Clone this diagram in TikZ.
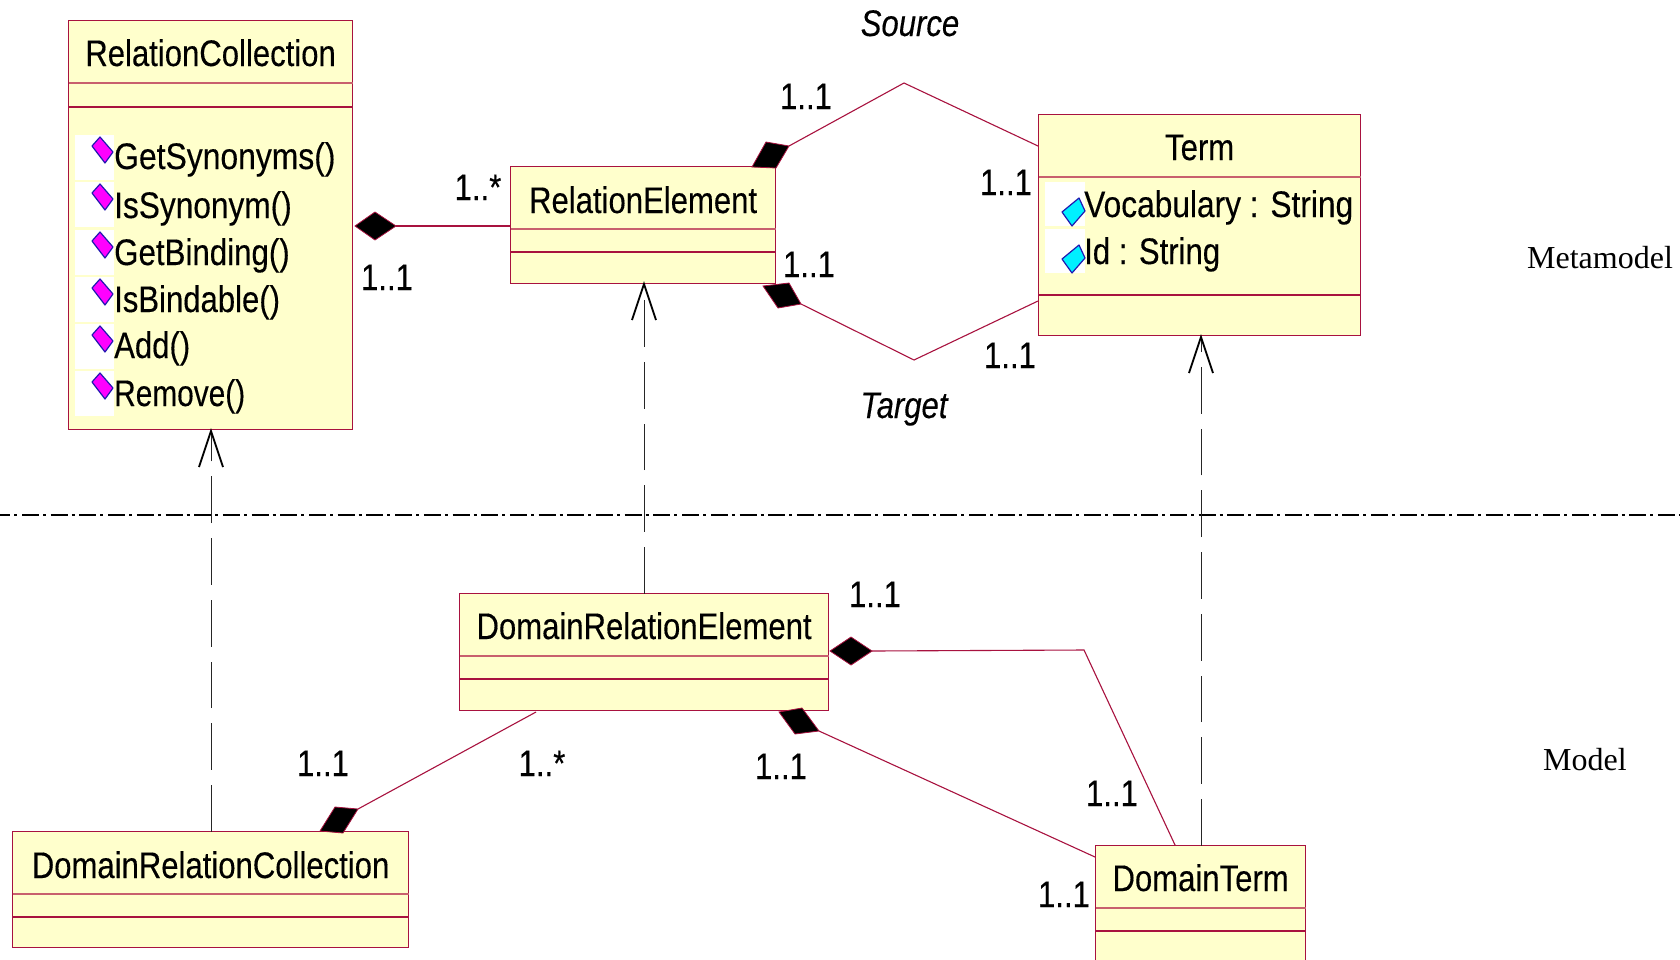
\documentclass[tikz,border=0pt]{standalone}
\usepackage{fontspec}
\setmainfont[FakeStretch=0.84,FakeBold=0.25]{Liberation Sans}
\newfontfamily\serifrm{Liberation Serif}
\usetikzlibrary{arrows.meta,positioning}
\definecolor{umlline}{HTML}{A8123F}
\definecolor{umlsoft}{HTML}{C8606E}
\definecolor{umlfill}{HTML}{FFFFCC}
\definecolor{opfill}{HTML}{FF00FF}
\definecolor{attfill}{HTML}{00F0FF}
\definecolor{iconedge}{HTML}{2018B0}
\tikzset{
  x=1pt,y=-1pt,
  classbox/.style={draw=umlline,fill=umlfill,line width=1.5pt,inner sep=0,outer sep=0,anchor=north west,xshift=.6pt,yshift=-.6pt},
  softrule/.style={draw=umlsoft,line width=1.5pt},
  seprule/.style={draw=umlline,line width=1.1pt},
  assoc/.style={draw=umlline,line width=1.1pt},
  compo/.style={draw=umlline,fill=black,line width=.8pt},
  realize/.style={draw=black!85,line width=.9pt,dash pattern=on 46.7pt off 15pt},
  openhead/.style={draw=black,line width=1.8pt},
  cls/.style={inner sep=0,anchor=base,font=\fontsize{37}{40}\selectfont},
  mem/.style={inner sep=0,anchor=base west,font=\fontsize{37}{40}\selectfont},
  mult/.style={inner sep=0,anchor=base,font=\fontsize{37}{40}\selectfont},
  rolename/.style={inner sep=0,anchor=base,font=\fontsize{37}{40}\selectfont\itshape},
  level/.style={inner sep=0,anchor=base,font=\fontsize{32}{36}\selectfont\serifrm},
  iconbg/.style={fill=white,draw=none,inner sep=0,outer sep=0,anchor=north west,minimum width=39pt},
  opmark/.style={fill=opfill,draw=iconedge,line width=1.2pt,line join=round},
  attmark/.style={fill=attfill,draw=iconedge,line width=1.2pt,line join=round},
}
\newcommand{\umlbox}[9]{% name x1 y1 x2 y2 sep1 sep2 title baseline
  \node[classbox,minimum width=#4-#2,minimum height=#5-#3] (#1) at (#2,#3) {};
  \draw[softrule] (#1.west |- 0,#6) -- (#1.east |- 0,#6);
  \draw[seprule] (#1.west |- 0,#7) -- (#1.east |- 0,#7);
  \node[cls] (#1-t) at ({(#2+#4)/2+.6},#9) {#8};
}
\newcommand{\opicon}[2]{% y center of diamond, name
  \node[iconbg,minimum height=45pt] (#2-bg) at (75,#1-15) {};
  \draw[opmark] (100,#1-13) -- (113,#1+2) -- (105,#1+13) -- (92,#1-4) -- cycle;
}
\newcommand{\attricon}[2]{%
  \node[iconbg,minimum width=40pt,minimum height=44pt] (#2-bg) at (1045,#1-30) {};
  \draw[attmark] (1079,#1-14) -- (1085,#1-1) -- (1072,#1+14) -- (1062,#1) -- cycle;
}
\newcommand{\squeeze}[2]{\scalebox{#1}[1]{#2}}
\begin{document}
\begin{tikzpicture}
\useasboundingbox (0,0) rectangle (1680,959);
\fill[white] (0,0) rectangle (1680,959);

% coordinates
\coordinate (d1a) at (355,226); \coordinate (d1b) at (396,226);
\coordinate (srcapex) at (904,83); \coordinate (srcend) at (1038,146);
\coordinate (tgtapex) at (914,360); \coordinate (tgtend) at (1038,301);
\coordinate (d2tip) at (789,146); \coordinate (d3tip) at (801,304);
\coordinate (d4tip) at (872,651); \coordinate (bend) at (1084,650);
\coordinate (dtend) at (1175,845);
\coordinate (d5tip) at (819,731); \coordinate (dtend2) at (1095,857);
\coordinate (d6tip) at (358,809); \coordinate (dreend) at (536,712);

% dash-dot separator
\coordinate (sepL) at (0,515); \coordinate (sepR) at (1680,515);
\draw[black,line width=1.6pt,dash pattern=on 17pt off 4pt on 3pt off 4.7pt,dash phase=6.7pt] (sepL) -- (sepR);

% classes
\umlbox{RC}{68}{20}{352}{429}{83}{107}{RelationCollection}{66}
\umlbox{RE}{510}{166}{775}{283}{229}{252}{RelationElement}{213}
\umlbox{TM}{1038}{114}{1360}{335}{177}{295}{Term}{160}
\umlbox{DRE}{459}{593}{828}{710}{656}{679}{DomainRelationElement}{639}
\umlbox{DRC}{12}{831}{408}{947}{894}{917}{DomainRelationCollection}{878}
\umlbox{DT}{1095}{845}{1305}{975}{908}{931}{DomainTerm}{891}

% operations
\opicon{150}{op1} \opicon{197}{op2} \opicon{245}{op3} \opicon{292}{op4} \opicon{339}{op5} \opicon{386}{op6}
\node[mem] (m1) at (114,169) {\squeeze{1.025}{GetSynonyms()}};
\node[mem] (m2) at (114,218) {\squeeze{1.018}{IsSynonym()}};
\node[mem] (m3) at (114,265) {\squeeze{1.006}{GetBinding()}};
\node[mem] (m4) at (114,312) {IsBindable()};
\node[mem] (m5) at (114,358) {Add()};
\node[mem] (m6) at (114,406) {\squeeze{0.96}{Remove()}};

% attributes
\attricon{212}{at1} \attricon{259}{at2}
\node[mem] (a1) at (1084,217) {\squeeze{1.02}{Vocabulary : String}};
\node[mem] (a2) at (1084,264) {Id : String};

% associations
\draw[assoc] (d1b) -- (RE.west |- d1b);
\draw[assoc] (d2tip) -- (srcapex) -- (srcend);
\draw[assoc] (d3tip) -- (tgtapex) -- (tgtend);
\draw[assoc] (d4tip) -- (bend) -- (dtend);
\draw[assoc] (d5tip) -- (dtend2);
\draw[assoc] (d6tip) -- (dreend);

% composition diamonds
\draw[compo] (d1a) -- (375,212) -- (d1b) -- (375,240) -- cycle;
\draw[compo] (752,167) -- (766,142) -- (d2tip) -- (776,168) -- cycle;
\draw[compo] (763,286) -- (778,308) -- (d3tip) -- (789,283) -- cycle;
\draw[compo] (830,651) -- (851,637) -- (d4tip) -- (851,665) -- cycle;
\draw[compo] (779,712) -- (802,708) -- (d5tip) -- (795,734) -- cycle;
\draw[compo] (320,831) -- (335,807) -- (d6tip) -- (343,833) -- cycle;

% realizations
\coordinate (h1) at (211,431); \coordinate (h2) at (644,284); \coordinate (h3) at (1201,337);
\draw[realize] (DRC.north -| h1) -- (h1);
\draw[realize] (DRE.north -| h2) -- (h2);
\draw[realize] (DT.north -| h3) -- (h3);
\draw[openhead] (199,467) -- (h1) -- (223,467);
\draw[openhead] (632,320) -- (h2) -- (656,320);
\draw[openhead] (1189,373) -- (h3) -- (1213,373);

% multiplicities
\node[mult] (l1) at (806,109) {1..1};
\node[mult] (l2) at (1006,195) {1..1};
\node[mult] (l3) at (1010,368) {1..1};
\node[mult,fill=white,inner sep=1pt] (l4) at (809,277) {1..1};
\node[mult] (l5) at (387,290) {1..1};
\node[mult] (l6) at (478,200) {1..*};
\node[mult] (l7) at (875,607) {1..1};
\node[mult] (l8) at (323,776) {1..1};
\node[mult] (l9) at (542,776) {1..*};
\node[mult] (l10) at (781,779) {1..1};
\node[mult] (l11) at (1112,806) {1..1};
\node[mult] (l12) at (1064,907) {1..1};

% role names and levels
\node[rolename] (src) at (910,36) {Source};
\node[rolename] (tgt) at (904,418) {Target};
\node[level] (meta) at (1600,268) {Metamodel};
\node[level] (model) at (1585,770) {Model};
\end{tikzpicture}
\end{document}
